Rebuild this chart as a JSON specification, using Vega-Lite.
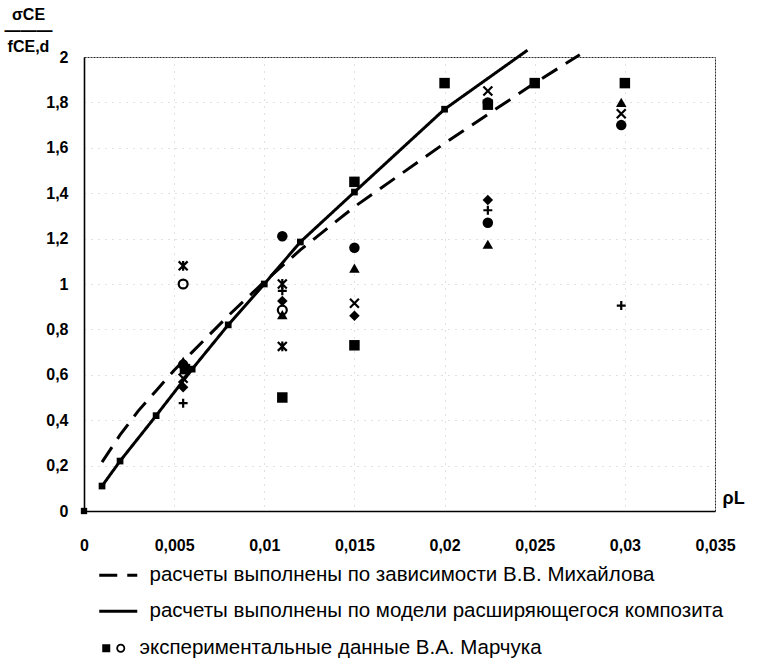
{
  "$schema": "https://vega.github.io/schema/vega-lite/v6.json",
  "width": 631,
  "height": 454,
  "autosize": {"type": "none"},
  "padding": {"left": 84, "top": 57, "right": 45, "bottom": 148},
  "background": "white",
  "config": {
    "font": "Liberation Sans",
    "view": {"stroke": "#222", "strokeDash": [2, 1], "strokeWidth": 1},
    "axis": {
      "labelFont": "Liberation Sans",
      "labelFontWeight": "bold",
      "labelFontSize": 16,
      "labelColor": "black",
      "ticks": false,
      "domainColor": "black",
      "domainWidth": 1.6,
      "gridColor": "#888",
      "gridDash": [1, 6],
      "gridWidth": 1,
      "gridOpacity": 0.5,
      "titleFont": "Liberation Sans",
      "titleFontWeight": "bold",
      "titleColor": "black"
    }
  },
  "datasets": {
    "model": [
      {"series": "m", "x": 0.001, "y": 0.215},
      {"series": "m", "x": 0.002, "y": 0.335},
      {"series": "m", "x": 0.003, "y": 0.44},
      {"series": "m", "x": 0.004, "y": 0.53},
      {"series": "m", "x": 0.005, "y": 0.62},
      {"series": "m", "x": 0.006, "y": 0.70},
      {"series": "m", "x": 0.008, "y": 0.86},
      {"series": "m", "x": 0.01, "y": 1.01},
      {"series": "m", "x": 0.012, "y": 1.15},
      {"series": "m", "x": 0.015, "y": 1.34},
      {"series": "m", "x": 0.02, "y": 1.62},
      {"series": "m", "x": 0.025, "y": 1.885},
      {"series": "m", "x": 0.0275, "y": 2.01},
      {"series": "k", "x": 0.001, "y": 0.11},
      {"series": "k", "x": 0.002, "y": 0.22},
      {"series": "k", "x": 0.004, "y": 0.42},
      {"series": "k", "x": 0.006, "y": 0.625},
      {"series": "k", "x": 0.008, "y": 0.82},
      {"series": "k", "x": 0.01, "y": 1.0},
      {"series": "k", "x": 0.012, "y": 1.185},
      {"series": "k", "x": 0.015, "y": 1.405},
      {"series": "k", "x": 0.02, "y": 1.77},
      {"series": "k", "x": 0.0246, "y": 2.03}
    ],
    "exp": [
      {"m": "dot", "x": 0, "y": 0},
      {"m": "ast", "x": 0.0055, "y": 1.08},
      {"m": "ocirc", "x": 0.0055, "y": 1.0},
      {"m": "tri", "x": 0.0055, "y": 0.66},
      {"m": "circ", "x": 0.0055, "y": 0.645},
      {"m": "sq", "x": 0.0056, "y": 0.625},
      {"m": "x", "x": 0.0055, "y": 0.585},
      {"m": "dia", "x": 0.0055, "y": 0.545},
      {"m": "plus", "x": 0.0055, "y": 0.475},
      {"m": "circ", "x": 0.011, "y": 1.21},
      {"m": "ast", "x": 0.011, "y": 1.0},
      {"m": "plus", "x": 0.011, "y": 0.97},
      {"m": "dia", "x": 0.011, "y": 0.925},
      {"m": "ocirc", "x": 0.011, "y": 0.885},
      {"m": "tri", "x": 0.011, "y": 0.865},
      {"m": "ast", "x": 0.011, "y": 0.725},
      {"m": "sq", "x": 0.011, "y": 0.5},
      {"m": "sq", "x": 0.015, "y": 1.45},
      {"m": "circ", "x": 0.015, "y": 1.16},
      {"m": "tri", "x": 0.015, "y": 1.07},
      {"m": "x", "x": 0.015, "y": 0.915},
      {"m": "dia", "x": 0.015, "y": 0.86},
      {"m": "sq", "x": 0.015, "y": 0.73},
      {"m": "sq", "x": 0.02, "y": 1.885},
      {"m": "x", "x": 0.0224, "y": 1.85},
      {"m": "circ", "x": 0.0224, "y": 1.80},
      {"m": "sq", "x": 0.0224, "y": 1.79},
      {"m": "dia", "x": 0.0224, "y": 1.37},
      {"m": "plus", "x": 0.0224, "y": 1.325},
      {"m": "circ", "x": 0.0224, "y": 1.27},
      {"m": "tri", "x": 0.0224, "y": 1.175},
      {"m": "sq", "x": 0.025, "y": 1.885},
      {"m": "sq", "x": 0.03, "y": 1.885},
      {"m": "tri", "x": 0.0298, "y": 1.80},
      {"m": "x", "x": 0.0298, "y": 1.75},
      {"m": "circ", "x": 0.0298, "y": 1.70},
      {"m": "plus", "x": 0.0298, "y": 0.905}
    ]
  },
  "encoding": {
    "x": {
      "field": "x",
      "type": "quantitative",
      "scale": {"domain": [0, 0.035], "nice": false, "zero": false},
      "axis": {
        "values": [0, 0.005, 0.01, 0.015, 0.02, 0.025, 0.03, 0.035],
        "labelExpr": "replace(format(datum.value, '~g'), '.', ',')",
        "labelPadding": 26,
        "labelFlush": false,
        "labelOverlap": false,
        "title": "ρL",
        "titleX": 638,
        "titleY": -8,
        "titleAlign": "left",
        "titleBaseline": "alphabetic",
        "titleFontSize": 18
      }
    },
    "y": {
      "field": "y",
      "type": "quantitative",
      "scale": {"domain": [0, 2], "nice": false},
      "axis": {
        "values": [0, 0.2, 0.4, 0.6, 0.8, 1, 1.2, 1.4, 1.6, 1.8, 2],
        "labelExpr": "replace(format(datum.value, '~g'), '.', ',')",
        "labelPadding": 16,
        "labelOverlap": false,
        "title": ["σCE", "―――", "fCE,d"],
        "titleAngle": 0,
        "titleX": -56,
        "titleY": -51,
        "titleAlign": "center",
        "titleBaseline": "top",
        "titleFontSize": 16,
        "titleLineHeight": 16
      }
    }
  },
  "layer": [
    {
      "data": {"name": "model"},
      "mark": {"type": "line", "strokeWidth": 3, "color": "black"},
      "encoding": {
        "strokeDash": {
          "field": "series",
          "type": "nominal",
          "scale": {"domain": ["m", "k", "e"], "range": [[18, 10], [1, 0], [1, 0]]},
          "legend": {
            "title": null,
            "orient": "none",
            "legendX": 27,
            "legendY": 508,
            "padding": 0,
            "symbolSize": 100,
            "symbolStrokeWidth": 3,
            "symbolStrokeColor": "black",
            "labelFont": "Liberation Sans",
            "labelFontSize": 20.5,
            "labelColor": "black",
            "labelOffset": 18,
            "labelLimit": 900,
            "rowPadding": 15,
            "labelExpr": "datum.value == 'm' ? 'расчеты выполнены по зависимости В.В. Михайлова' : datum.value == 'k' ? 'расчеты выполнены по модели расширяющегося композита' : 'экспериментальные данные В.А. Марчука'",
            "encode": {
              "symbols": {
                "update": {
                  "shape": {"signal": "datum.index === 2 ? 'M-3.8,-0.8H-2.2V0.8H-3.8Z M0.8,0A0.9,0.9 0 1,1 -1,0A0.9,0.9 0 1,1 0.8,0Z M0.45,0A0.55,0.55 0 1,0 -0.65,0A0.55,0.55 0 1,0 0.45,0Z' : 'M-4.4,0H3.2'"},
                  "fill": {"signal": "datum.index === 2 ? 'black' : 'transparent'"},
                  "stroke": {"signal": "datum.index === 2 ? 'transparent' : 'black'"},
                  "strokeDash": {"signal": "datum.index === 0 ? [8, 6] : [1, 0]"},
                  "strokeWidth": {"value": 3},
                  "opacity": {"value": 1}
                }
              },
              "labels": {
                "update": {
                  "dx": {"signal": "datum.index === 2 ? -10 : 0"}
                }
              }
            }
          }
        }
      }
    },
    {
      "data": {"name": "model"},
      "transform": [{"filter": "datum.series == 'k' && datum.x < 0.024"}],
      "mark": {"type": "point", "shape": "square", "filled": true, "color": "black", "size": 45, "opacity": 1}
    },
    {
      "data": {"name": "exp"},
      "transform": [{"filter": "datum.m == 'dot'"}],
      "mark": {"type": "point", "shape": "square", "filled": true, "color": "black", "size": 40, "opacity": 1}
    },
    {
      "data": {"name": "exp"},
      "transform": [{"filter": "indexof(['sq', 'circ', 'dia', 'tri'], datum.m) >= 0"}],
      "mark": {"type": "point", "filled": true, "color": "black", "size": 110, "opacity": 1},
      "encoding": {
        "shape": {
          "field": "m",
          "type": "nominal",
          "scale": {
            "domain": ["sq", "circ", "dia", "tri", "x", "ast", "plus", "ocirc"],
            "range": ["square", "circle", "diamond", "triangle-up", "M-1,-1L1,1M-1,1L1,-1", "M-1,-1L1,1M-1,1L1,-1M0,-1.1L0,1.1", "M-1,0H1M0,-1V1", "circle"]
          },
          "legend": null
        }
      }
    },
    {
      "data": {"name": "exp"},
      "transform": [{"filter": "indexof(['x', 'ast', 'plus', 'ocirc'], datum.m) >= 0"}],
      "mark": {"type": "point", "filled": false, "color": "black", "size": 80, "strokeWidth": 2.2, "opacity": 1},
      "encoding": {
        "shape": {
          "field": "m",
          "type": "nominal",
          "scale": {
            "domain": ["sq", "circ", "dia", "tri", "x", "ast", "plus", "ocirc"],
            "range": ["square", "circle", "diamond", "triangle-up", "M-1,-1L1,1M-1,1L1,-1", "M-1,-1L1,1M-1,1L1,-1M0,-1.1L0,1.1", "M-1,0H1M0,-1V1", "circle"]
          },
          "legend": null
        }
      }
    }
  ]
}
